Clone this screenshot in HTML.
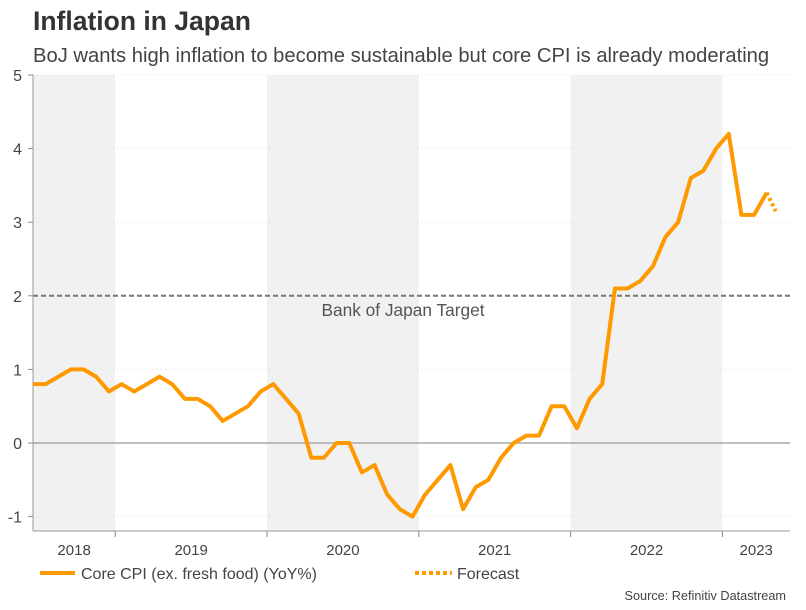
<!DOCTYPE html>
<html><head><meta charset="utf-8"><style>
html,body{margin:0;padding:0;background:#fff;}
svg text{font-family:"Liberation Sans",Arial,sans-serif;}
</style></head><body>
<svg id="chart" width="806" height="605" xmlns="http://www.w3.org/2000/svg">
<text x="33" y="30" font-size="26.5" font-weight="bold" fill="#333">Inflation in Japan</text>
<text x="33" y="62" font-size="20.2" fill="#444">BoJ wants high inflation to become sustainable but core CPI is already moderating</text>
<g id="bands"></g><g id="grid"></g><g id="axes"></g><g id="series"></g>
<text x="403" y="316" font-size="17.3" fill="#555" text-anchor="middle">Bank of Japan Target</text>
<g>
<line x1="40" y1="573" x2="75" y2="573" stroke="#FF9900" stroke-width="4"/>
<text x="81" y="579" font-size="16" fill="#444">Core CPI (ex. fresh food) (YoY%)</text>
<line x1="415" y1="573" x2="452" y2="573" stroke="#FF9900" stroke-width="4" stroke-dasharray="4,3"/>
<text x="457" y="579" font-size="16" fill="#444">Forecast</text>
</g>
<text x="786" y="600" font-size="12.7" fill="#444" text-anchor="end">Source: Refinitiv Datastream</text>
</svg>
<script>
const cpiValues=[0.8,0.8,0.9,1.0,1.0,0.9,0.7,0.8,0.7,0.8,0.9,0.8,0.6,0.6,0.5,0.3,0.4,0.5,0.7,0.8,0.6,0.4,-0.2,-0.2,0.0,0.0,-0.4,-0.3,-0.7,-0.9,-1.0,-0.7,-0.5,-0.3,-0.9,-0.6,-0.5,-0.2,0.0,0.1,0.1,0.5,0.5,0.2,0.6,0.8,2.1,2.1,2.2,2.4,2.8,3.0,3.6,3.7,4.0,4.2,3.1,3.1,3.4];
const forecastValues=[3.4,3.15];
const yTicks=[-1,0,1,2,3,4,5];
const years=["2018","2019","2020","2021","2022","2023"];
const yearStartIdx=[-5,7,19,31,43,55];
const targetValue=2;
const NS="http://www.w3.org/2000/svg";
const L=33,R=790,T=75,B=531;
const x=i=>33+i*12.65;
const y=v=>443-73.6*v;
function el(t,a,p){const e=document.createElementNS(NS,t);for(const k in a)e.setAttribute(k,a[k]);document.getElementById(p).appendChild(e);return e;}
years.forEach((yr,k)=>{
 const x0=Math.max(L,x(yearStartIdx[k]-0.5));
 const x1=k<years.length-1?x(yearStartIdx[k+1]-0.5):R;
 if(k%2===0){const r=el('rect',{x:x0,y:T,width:x1-x0,height:B-T,fill:'#f1f1f1'},'bands');
 
 }
 const t=el('text',{x:(x0+x1)/2,y:555,'font-size':15,fill:'#444','text-anchor':'middle'},'axes');t.textContent=yr;
 
 
 if(k>0){const tk=el('line',{x1:x0,y1:B,x2:x0,y2:537,stroke:'#888'},'axes');
 
 }
});
yTicks.forEach(v=>{
 const g=el('line',{x1:L,y1:y(v),x2:R,y2:y(v),stroke:v===0?'#999':'#ddd','stroke-width':v===0?1.2:1,'stroke-dasharray':v===0?'':'1,3'},'grid');
 
 
 const tk=el('line',{x1:28,y1:y(v),x2:L,y2:y(v),stroke:'#888'},'axes');
 
 
 const t=el('text',{x:22,y:y(v)+6,'font-size':16,fill:'#444','text-anchor':'end'},'axes');t.textContent=v;
 
 
});
const tl=el('line',{x1:L,y1:y(targetValue),x2:R,y2:y(targetValue),stroke:'#777','stroke-width':2,'stroke-dasharray':'5,3'},'grid');


const ya=el('line',{x1:L,y1:T,x2:L,y2:B,stroke:'#999'},'axes');


const xa=el('line',{x1:L,y1:B,x2:R,y2:B,stroke:'#999'},'axes');


const line=el('polyline',{points:cpiValues.map((v,i)=>x(i)+','+y(v)).join(' '),fill:'none',stroke:'#FF9900','stroke-width':4,'stroke-linejoin':'round'},'series');


const off=cpiValues.length-1;
const fc=el('polyline',{points:forecastValues.map((v,i)=>(x(off)+i*9)+','+y(v)).join(' '),fill:'none',stroke:'#FF9900','stroke-width':4,'stroke-dasharray':'3,3'},'series');


</script>
</body></html>
